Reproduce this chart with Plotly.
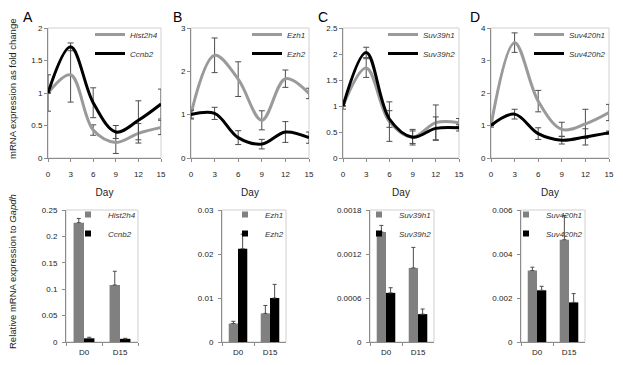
import plotly.graph_objects as go

# page body has an 8px default margin: figure is sized to fit inside the window
OFF = 8
W, H = 623 - 2 * OFF, 365 - 2 * OFF

# ---------------- data ----------------
days = [0, 3, 6, 9, 12, 15]

hist2h4_fc = [1.0, 1.28, 0.43, 0.24, 0.38, 0.47]
hist2h4_fc_err = [0.28, 0.42, 0.08, 0.17, 0.15, 0.11]
ccnb2_fc = [1.0, 1.71, 0.85, 0.40, 0.58, 0.83]
ccnb2_fc_err = [0.0, 0.06, 0.23, 0.10, 0.30, 0.23]

ezh1_fc = [1.02, 2.37, 1.82, 0.87, 1.83, 1.49]
ezh1_fc_err = [0.10, 0.40, 0.40, 0.22, 0.20, 0.12]
ezh2_fc = [1.0, 1.03, 0.47, 0.32, 0.60, 0.47]
ezh2_fc_err = [0.10, 0.14, 0.16, 0.11, 0.24, 0.13]

suv39h1_fc = [1.0, 1.73, 0.70, 0.40, 0.68, 0.68]
suv39h1_fc_err = [0.06, 0.18, 0.38, 0.15, 0.34, 0.08]
suv39h2_fc = [1.0, 2.03, 0.75, 0.40, 0.57, 0.58]
suv39h2_fc_err = [0.0, 0.10, 0.16, 0.12, 0.22, 0.06]

suv420h1_fc = [1.0, 3.55, 1.75, 0.88, 1.05, 1.40]
suv420h1_fc_err = [0.0, 0.30, 0.33, 0.22, 0.45, 0.25]
suv420h2_fc = [1.0, 1.35, 0.75, 0.55, 0.65, 0.78]
suv420h2_fc_err = [0.05, 0.15, 0.18, 0.12, 0.25, 0.05]

timepoints = ["D0", "D15"]
hist2h4_rel = [0.226, 0.108]
hist2h4_rel_err = [0.008, 0.026]
ccnb2_rel = [0.007, 0.006]
ccnb2_rel_err = [0.002, 0.001]
ezh1_rel = [0.0042, 0.0065]
ezh1_rel_err = [0.0005, 0.0018]
ezh2_rel = [0.0212, 0.0100]
ezh2_rel_err = [0.0033, 0.0031]
suv39h1_rel = [0.00150, 0.00101]
suv39h1_rel_err = [0.00009, 0.00028]
suv39h2_rel = [0.00067, 0.00038]
suv39h2_rel_err = [0.00007, 0.00007]
suv420h1_rel = [0.00325, 0.00465]
suv420h1_rel_err = [0.00015, 0.00110]
suv420h2_rel = [0.00235, 0.00180]
suv420h2_rel_err = [0.00018, 0.00040]

top_ranges = [[0, 2], [0, 3], [0, 2.5], [0, 4]]
top_dticks = [0.5, 1, 0.5, 1]
day_ticks = [0, 3, 6, 9, 12, 15]

bottom_ticks = [
    ([0, 0.05, 0.1, 0.15, 0.2, 0.25], ["0", "0.05", "0.1", "0.15", "0.2", "0.25"]),
    ([0, 0.01, 0.02, 0.03], ["0", "0.01", "0.02", "0.03"]),
    ([0, 0.0006, 0.0012, 0.0018], ["0", "0.0006", "0.0012", "0.0018"]),
    ([0, 0.002, 0.004, 0.006], ["0", "0.002", "0.004", "0.006"]),
]

panel_letters = ["A", "B", "C", "D"]

# ---------------- layout geometry (window pixels) ----------------
top_x_px = [(48, 161), (191, 309), (343, 459), (491, 609)]
top_y_px = (28, 158)
bot_x_px = [(66, 138), (222, 286), (370, 434), (521, 585)]
bot_y_px = (210, 342)
letter_px = [(28, 17), (177, 17), (323, 17), (475, 17)]

def fx(px):
    return (px - OFF) / W

def fy(py):
    return 1 - (py - OFF) / H

def xd(a, b):
    return [fx(a), fx(b)]

def yd(a, b):
    return [fy(b), fy(a)]

GRAY_LINE = "#9a9a9a"
GRAY_BAR = "#808080"
ERR_COL = "#4d4d4d"
FONT = "Liberation Sans"

fig = go.Figure()

top_series = [
    ("Hist2h4", hist2h4_fc, hist2h4_fc_err, "Ccnb2", ccnb2_fc, ccnb2_fc_err),
    ("Ezh1", ezh1_fc, ezh1_fc_err, "Ezh2", ezh2_fc, ezh2_fc_err),
    ("Suv39h1", suv39h1_fc, suv39h1_fc_err, "Suv39h2", suv39h2_fc, suv39h2_fc_err),
    ("Suv420h1", suv420h1_fc, suv420h1_fc_err, "Suv420h2", suv420h2_fc, suv420h2_fc_err),
]
bot_series = [
    ("Hist2h4", hist2h4_rel, hist2h4_rel_err, "Ccnb2", ccnb2_rel, ccnb2_rel_err),
    ("Ezh1", ezh1_rel, ezh1_rel_err, "Ezh2", ezh2_rel, ezh2_rel_err),
    ("Suv39h1", suv39h1_rel, suv39h1_rel_err, "Suv39h2", suv39h2_rel, suv39h2_rel_err),
    ("Suv420h1", suv420h1_rel, suv420h1_rel_err, "Suv420h2", suv420h2_rel, suv420h2_rel_err),
]

layout_axes = {}
legends = {}
shapes = []
annotations = []

for i in range(4):
    tx = f"x{i+1}" if i else "x"
    ty = f"y{i+1}" if i else "y"
    bx = f"x{i+5}"
    by = f"y{i+5}"
    tleg = "legend" if i == 0 else f"legend{i+1}"
    bleg = f"legend{i+5}"

    n1, v1, e1, n2, v2, e2 = top_series[i]
    for name, vals, errs, col in [(n1, v1, e1, GRAY_LINE), (n2, v2, e2, "#000000")]:
        fig.add_trace(go.Scatter(
            x=days, y=vals, name=name, mode="lines",
            line=dict(color=col, width=3, shape="spline", smoothing=1.0),
            error_y=dict(type="data", array=errs, visible=True, color=ERR_COL,
                         thickness=1, width=3),
            xaxis=tx, yaxis=ty, legend=tleg, cliponaxis=False,
        ))

    n1, v1, e1, n2, v2, e2 = bot_series[i]
    for name, vals, errs, col in [(n1, v1, e1, GRAY_BAR), (n2, v2, e2, "#000000")]:
        fig.add_trace(go.Bar(
            x=timepoints, y=vals, name=name, marker=dict(color=col, line=dict(width=0)),
            error_y=dict(type="data", symmetric=False, array=errs,
                         arrayminus=[0] * len(errs), visible=True,
                         color=ERR_COL, thickness=1, width=2),
            xaxis=bx, yaxis=by, showlegend=False,
        ))
        # small square legend key for the bar series
        fig.add_trace(go.Scatter(
            x=[None], y=[None], name=name, mode="markers",
            marker=dict(symbol="square", size=6, color=col),
            xaxis=bx, yaxis=by, legend=bleg,
        ))

    axis_common = dict(showline=True, linecolor="#8c8c8c", linewidth=1,
                       ticks="outside", ticklen=3, tickcolor="#8c8c8c",
                       showgrid=False, zeroline=False,
                       tickfont=dict(family=FONT, size=8, color="#222"))

    a, b = top_x_px[i]
    layout_axes["xaxis" + (str(i + 1) if i else "")] = dict(
        domain=xd(a, b), anchor=ty, range=[0, 15], tickvals=day_ticks,
        ticklabelstandoff=5,
        title=dict(text="Day", font=dict(family=FONT, size=10, color="#222"), standoff=11),
        **axis_common)
    layout_axes["yaxis" + (str(i + 1) if i else "")] = dict(
        domain=yd(*top_y_px), anchor=tx, range=top_ranges[i], dtick=top_dticks[i],
        tick0=0, **axis_common)

    a, b = bot_x_px[i]
    layout_axes[f"xaxis{i+5}"] = dict(
        domain=xd(a, b), anchor=by, type="category", tickson="boundaries",
        ticklabelstandoff=2, **axis_common)
    tv, tt = bottom_ticks[i]
    layout_axes[f"yaxis{i+5}"] = dict(
        domain=yd(*bot_y_px), anchor=bx, range=[tv[0], tv[-1]], tickvals=tv,
        ticktext=tt, ticklabelstandoff=3, **axis_common)

    # light plot-area frames
    for xr, yr in [(tx, ty), (bx, by)]:
        shapes.append(dict(type="rect", xref=xr + " domain", yref=yr + " domain",
                           x0=0, x1=1, y0=0, y1=1, line=dict(color="#d0d0d0", width=1),
                           layer="below"))

    legends[tleg] = dict(
        x=fx(top_x_px[i][1] + 2), y=fy(top_y_px[0] - 8),
        xanchor="right", yanchor="top", bgcolor="rgba(0,0,0,0)",
        font=dict(family=FONT, size=8, color="#333", style="italic"),
        itemwidth=30, tracegroupgap=0)
    legends[bleg] = dict(
        x=fx(bot_x_px[i][1] + 3), y=fy(bot_y_px[0] - 10),
        xanchor="right", yanchor="top", bgcolor="rgba(0,0,0,0)",
        font=dict(family=FONT, size=8, color="#333", style="italic"),
        itemwidth=30, tracegroupgap=0)

    lx, ly = letter_px[i]
    annotations.append(dict(text=panel_letters[i], x=fx(lx), y=fy(ly),
                            xref="paper", yref="paper", showarrow=False,
                            xanchor="center", yanchor="middle",
                            font=dict(family=FONT, size=14, color="#000")))

annotations.append(dict(text="mRNA expression as fold change", x=fx(12),
                        y=fy(89), xref="paper", yref="paper", showarrow=False,
                        xanchor="center", yanchor="middle",
                        textangle=-90, font=dict(family=FONT, size=9.5, color="#222")))
annotations.append(dict(text="Relative mRNA expression to <i>Gapdh</i>", x=fx(12),
                        y=fy(272), xref="paper", yref="paper", showarrow=False,
                        xanchor="center", yanchor="middle",
                        textangle=-90, font=dict(family=FONT, size=9.5, color="#222")))

fig.update_layout(
    width=W, height=H, margin=dict(l=0, r=0, t=0, b=0, autoexpand=False),
    paper_bgcolor="white", plot_bgcolor="white",
    barmode="group", bargap=0.42, bargroupgap=0,
    showlegend=True, shapes=shapes, annotations=annotations,
    **layout_axes, **legends,
)

fig.write_html("out.html")
